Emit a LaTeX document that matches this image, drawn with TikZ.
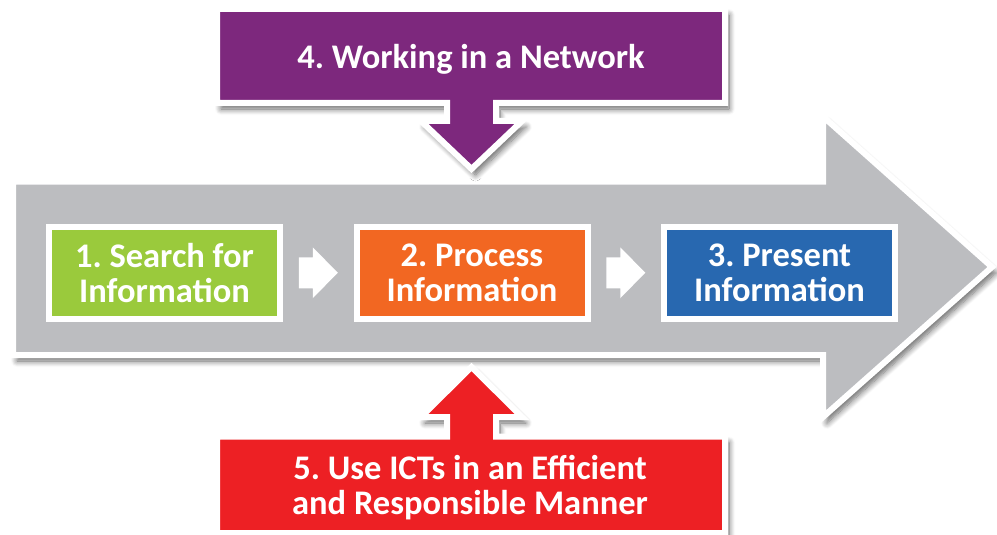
\documentclass[tikz,border=0pt]{standalone}
\usepackage{fontspec}
\setmainfont{Carlito}
\usetikzlibrary{shadows.blur,calc}
\definecolor{cgrey}{RGB}{188,189,192}
\definecolor{cpurple}{RGB}{125,40,125}
\definecolor{cred}{RGB}{237,32,36}
\definecolor{cgreen}{RGB}{154,202,60}
\definecolor{corange}{RGB}{242,103,34}
\definecolor{cblue}{RGB}{40,104,176}
\frenchspacing
\begin{document}
\begin{tikzpicture}[x=1pt,y=-1pt,
  softshadow/.style={blur shadow={shadow xshift=4pt, shadow yshift=-6pt, shadow blur radius=6pt, shadow blur steps=10, shadow opacity=60}},
  shapeframe/.style={draw=white, line width=6pt, line join=miter, softshadow},
  boxtext/.style={text=white, font=\bfseries\fontsize{34.5}{35}\selectfont, align=center, inner sep=0pt},
  stepbox/.style={draw=white, line width=6pt, minimum width=231pt, minimum height=92.5pt, inner sep=0pt,
    align=center, text=white, font=\bfseries\fontsize{34.5}{35}\selectfont},
  wharrow/.pic={\fill[white] (-19.5,-15.5) -- (-5.5,-15.5) -- (-5.5,-25.5) -- (19.5,0) -- (-5.5,25.5) -- (-5.5,15.5) -- (-19.5,15.5) -- cycle;}
]
\useasboundingbox (0,0) rectangle (997,535);
% big grey arrow
\path[shapeframe, fill=cgrey] (13,181.5) -- (823,181.5) -- (823,116.5) -- (992,267) -- (823,417) -- (823,355) -- (13,355) -- cycle;
% purple box with arrow
\path[shapeframe, fill=cpurple] (217,9) -- (725,9) -- (725,103) -- (496,103) -- (496,121) -- (522,121) -- (471.5,169) -- (421,121) -- (447,121) -- (447,103) -- (217,103) -- cycle;
% red box with arrow
\path[shapeframe, fill=cred] (217,533) -- (725,533) -- (725,436.5) -- (496,436.5) -- (496,417) -- (522,417) -- (471.5,367) -- (421,417) -- (447,417) -- (447,436.5) -- (217,436.5) -- cycle;
% texts
\node[boxtext] (net) at (471,59) {4. Working in a Network};
\node[boxtext] (ict) at (470,488) {5. Use ICTs in an Efficient\\and Responsible Manner};
% steps
\node[stepbox, fill=cgreen] (s1) at (164.5,272.75) {1. Search for\\Information};
\node[stepbox, fill=corange] (s2) at (472,272.75) {2. Process\\Information};
\node[stepbox, fill=cblue] (s3) at (779.5,272.75) {3. Present\\Information};
\pic at ($(s1.east)!0.5!(s2.west)$) {wharrow};
\pic at ($(s2.east)!0.5!(s3.west)$) {wharrow};
\end{tikzpicture}
\end{document}
